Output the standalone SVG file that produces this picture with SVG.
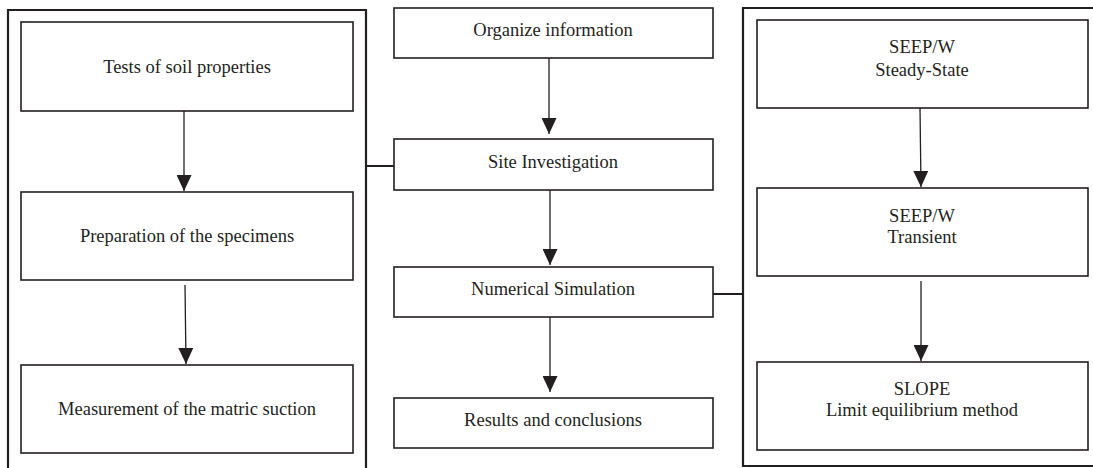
<svg xmlns="http://www.w3.org/2000/svg" width="1093" height="468" viewBox="0 0 1093 468">
<defs>
<style>
.frame{fill:none;stroke:#231f20;stroke-width:2.2}
.box{fill:#fff;stroke:#231f20;stroke-width:1.6}
.t{font-family:"Liberation Serif","Times New Roman",serif;font-size:18.5px;fill:#231f20;text-anchor:middle;dominant-baseline:central}
.edge{fill:none;stroke:#231f20;stroke-width:1.3}
.link{fill:none;stroke:#231f20;stroke-width:2}
</style>
<marker id="ah" viewBox="0 0 16 15" refX="16" refY="7.5" markerWidth="16" markerHeight="15" markerUnits="userSpaceOnUse" orient="auto">
<path d="M0,0 L16,7.5 L0,15 Z" fill="#231f20"/>
</marker>
</defs>
<rect width="1093" height="468" fill="#fff"/>

<g id="frame-left"><path class="frame" d="M8,472 V10 H366 V472"/></g>
<g id="frame-right"><path class="frame" d="M1100,8 H743 V466 H1100"/></g>

<g id="n-tests"><rect class="box" x="21" y="22" width="332" height="89"/><text class="t" x="187" y="67">Tests of soil properties</text></g>
<g id="n-prep"><rect class="box" x="21" y="192" width="332" height="88"/><text class="t" x="187" y="236">Preparation of the specimens</text></g>
<g id="n-meas"><rect class="box" x="21" y="365" width="332" height="88"/><text class="t" x="187" y="409">Measurement of the matric suction</text></g>

<g id="n-org"><rect class="box" x="394" y="8" width="319" height="50"/><text class="t" x="553" y="30">Organize information</text></g>
<g id="n-site"><rect class="box" x="394" y="139" width="319" height="51"/><text class="t" x="553" y="162">Site Investigation</text></g>
<g id="n-num"><rect class="box" x="394" y="267" width="319" height="50"/><text class="t" x="553" y="289">Numerical Simulation</text></g>
<g id="n-res"><rect class="box" x="394" y="398" width="319" height="50"/><text class="t" x="553" y="420">Results and conclusions</text></g>

<g id="n-steady"><rect class="box" x="757" y="20" width="331" height="88"/><text class="t" x="922" y="47">SEEP/W</text><text class="t" x="922" y="70">Steady-State</text></g>
<g id="n-trans"><rect class="box" x="757" y="188" width="331" height="88"/><text class="t" x="922" y="216">SEEP/W</text><text class="t" x="922" y="237">Transient</text></g>
<g id="n-slope"><rect class="box" x="757" y="362" width="331" height="88"/><text class="t" x="922" y="389">SLOPE</text><text class="t" x="922" y="410">Limit equilibrium method</text></g>

<g id="connectors">
<line class="edge" x1="184" y1="111" x2="184" y2="191" marker-end="url(#ah)"/>
<line class="edge" x1="185" y1="285" x2="186" y2="364" marker-end="url(#ah)"/>
<line class="edge" x1="549" y1="58" x2="549" y2="134" marker-end="url(#ah)"/>
<line class="edge" x1="550" y1="190" x2="550" y2="265" marker-end="url(#ah)"/>
<line class="edge" x1="550" y1="317" x2="550" y2="392" marker-end="url(#ah)"/>
<line class="edge" x1="920" y1="108" x2="921" y2="187" marker-end="url(#ah)"/>
<line class="edge" x1="921" y1="281" x2="921" y2="361" marker-end="url(#ah)"/>
<line class="link" x1="366" y1="166" x2="394" y2="166"/>
<line class="link" x1="713" y1="294" x2="743" y2="294"/>
</g>
</svg>
